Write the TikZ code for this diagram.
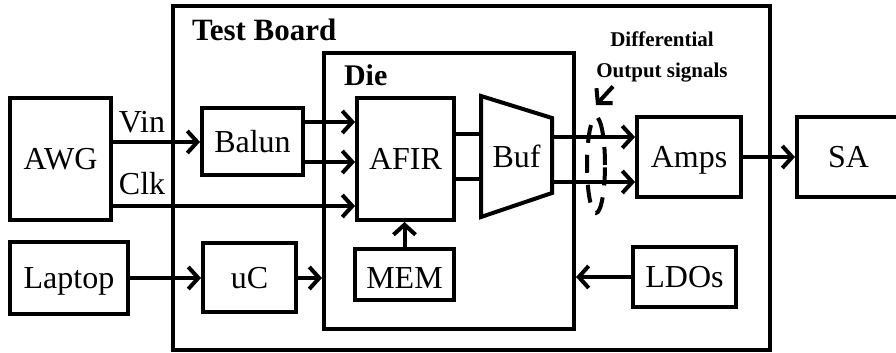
\documentclass[tikz,border=0pt]{standalone}
\usepackage{fontspec}
\setmainfont{Liberation Serif}
\usetikzlibrary{arrows.meta, shapes.geometric}

\begin{document}
\begin{tikzpicture}[x=0.5pt, y=-0.5pt, line width=2pt, >={Straight Barb[length=5pt,width=11pt]},
    blk/.style={draw, rectangle, inner sep=0pt, text height=10.6pt, text depth=0pt, font=\fontsize{16}{19}\selectfont},
    lbl/.style={inner sep=0pt, text height=10.6pt, text depth=0pt, font=\fontsize{16}{19}\selectfont},
    ttl/.style={inner sep=0pt, font=\fontsize{15.5}{19}\selectfont\bfseries}]
        \useasboundingbox (0,0) rectangle (896,353);
        \clip (0,0) rectangle (896,353);

        % frames
        \node[blk, minimum width=298.5pt, minimum height=172pt] (board) at (471.5,178) {};
        \node[blk, minimum width=125pt, minimum height=138pt] (die) at (449,191) {};
        \node[ttl, anchor=base west] (boardlbl) at (190,41) {Test Board};
        \node[ttl, font=\fontsize{15}{18}\selectfont\bfseries, anchor=base west] (dielbl) at (342,86) {Die};

        % blocks
        \node[blk, minimum width=50.5pt, minimum height=61pt] (awg) at (60.5,159) {AWG};
        \node[blk, minimum width=50.5pt, minimum height=33.5pt] (balun) at (252.5,142) {Balun};
        \node[blk, minimum width=48.5pt, minimum height=61pt] (afir) at (405.5,159) {AFIR};
        \node[lbl] (buf) at (516.5,157) {Buf};
        \draw (481,96) -- (552,118) -- (552,193) -- (481,217) -- cycle;
        \node[blk, minimum width=52pt, minimum height=40pt] (amps) at (689,157) {Amps};
        \node[blk, minimum width=51.5pt, minimum height=40pt] (sa) at (848.5,157) {SA};
        \node[blk, minimum width=59pt, minimum height=36pt] (laptop) at (69,278) {Laptop};
        \node[blk, minimum width=46.5pt, minimum height=34.5pt] (uc) at (249.5,278) {uC};
        \node[blk, text height=14pt, minimum width=49.5pt, minimum height=25.5pt] (mem) at (404.5,274.5) {MEM};
        \node[blk, minimum width=51.5pt, minimum height=30pt] (ldos) at (684.5,277) {LDOs};

        % buffer ports
        \coordinate (bufi1) at (481,134);
        \coordinate (bufi2) at (481,179);
        \coordinate (bufo1) at (552,137);
        \coordinate (bufo2) at (552,182);

        % signals
        \draw[->] (awg.east |- balun.west) -- (balun.west);
        \node[lbl, anchor=base west] (vin) at (117,133) {Vin};
        \draw[->] ([yshift=-23.5pt]awg.east) -- ([yshift=-23.5pt]awg.east -| afir.west);
        \node[lbl, anchor=base west] (clk) at (117,195) {Clk};
        \draw[->] ([yshift=10pt]balun.east) -- ([yshift=10pt]balun.east -| afir.west);
        \draw[->] ([yshift=-10pt]balun.east) -- ([yshift=-10pt]balun.east -| afir.west);
        \draw (afir.east |- bufi1) -- (bufi1);
        \draw (afir.east |- bufi2) -- (bufi2);
        \draw[->] (bufo1) -- (amps.west |- bufo1);
        \draw[->] (bufo2) -- (amps.west |- bufo2);
        \draw[->] (amps) -- (sa);
        \draw[->] (laptop) -- (uc);
        \draw[->] (uc) -- (uc -| die.west);
        \draw[->] (mem.north) -- (mem.north |- afir.south);
        \draw[->] (ldos) -- (ldos -| die.east);

        % differential outputs
        \node[ttl, font=\fontsize{10.5}{15.5}\selectfont\bfseries, align=center, anchor=north] (difflbl) at (662,30) {Differential\\Output signals};
        \node[draw, dashed, dash pattern=on 9pt off 6pt, ellipse, inner sep=0pt, minimum width=9pt, minimum height=48pt] (diffmark) at (596,165) {};
        \draw[->] ([xshift=-24.5pt, yshift=-1pt]difflbl.south) -- ([yshift=5pt]diffmark.north);
    \end{tikzpicture}
\end{document}
